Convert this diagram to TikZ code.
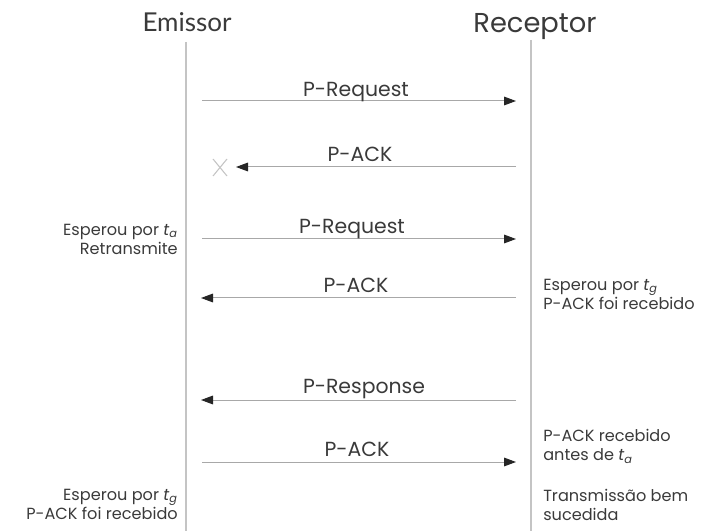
\documentclass[tikz,border=0pt]{standalone}
\usepackage{fontspec}
\setmainfont{Poppins}
\newfontfamily\titlefont{Lato}
\usetikzlibrary{arrows.meta}
\definecolor{lifegray}{HTML}{C4C4C4}
\definecolor{msggray}{HTML}{A8A8A8}
\definecolor{txtgray}{HTML}{3A3A3A}
\newcommand{\tsub}[1]{\textit{t}\textsubscript{\itshape #1}}
\begin{document}
\begin{tikzpicture}[x=0.75pt,y=-0.75pt,
  title/.style={text=txtgray,font=\fontsize{20.5}{24}\selectfont,inner sep=0pt},
  lifeline/.style={draw=lifegray,line width=0.8pt},
  msg/.style={draw=msggray,line width=0.75pt,
    -{Triangle[length=9pt,width=6.5pt,fill=black!85,color=black!85]}},
  msglabel/.style={text=txtgray,font=\fontsize{15.3}{18}\selectfont,inner sep=0pt,anchor=base},
  note/.style={text=txtgray,font=\fontsize{12.1}{14.4}\selectfont,inner sep=0pt},
  lostmark/.style={draw=lifegray,line width=0.8pt}]
\useasboundingbox (0,0) rectangle (704,531);

% participants
\node[title,font=\titlefont\fontsize{19.5}{24}\selectfont] (emissor) at (187,22) {Emissor};
\node[title] (receptor) at (535,27) {Receptor};

% lifelines
\coordinate (eTop) at (186,42);
\coordinate (eBot) at (186,531);
\coordinate (rTop) at (531,40);
\coordinate (rBot) at (531,531);
\draw[lifeline] (eTop) -- (eBot);
\draw[lifeline] (rTop) -- (rBot);

% message end points
\coordinate (s1) at (202,101); \coordinate (r1) at (516,101);
\coordinate (r2) at (516,167); \coordinate (s2) at (236,167);
\coordinate (s3) at (202,239); \coordinate (r3) at (516,239);
\coordinate (r4) at (516,298); \coordinate (s4) at (201,298);
\coordinate (r5) at (516,400); \coordinate (s5) at (201,400);
\coordinate (s6) at (202,462); \coordinate (r6) at (516,462);

% messages
\draw[msg] (s1) -- (r1);
\draw[msg] (r2) -- (s2);
\draw[msg] (s3) -- (r3);
\draw[msg] (r4) -- (s4);
\draw[msg] (r5) -- (s5);
\draw[msg] (s6) -- (r6);

% lost acknowledgement
\coordinate (x1) at (213,159); \coordinate (x2) at (227,176);
\coordinate (x3) at (227,159); \coordinate (x4) at (213,176);
\draw[lostmark] (x1) -- (x2);
\draw[lostmark] (x3) -- (x4);

% message labels
\node[msglabel] (l1) at (356,97) {P-Request};
\node[msglabel] (l2) at (360,162) {P-ACK};
\node[msglabel] (l3) at (352,234) {P-Request};
\node[msglabel] (l4) at (356,293) {P-ACK};
\node[msglabel] (l5) at (364,393) {P-Response};
\node[msglabel] (l6) at (357,456) {P-ACK};

% timer notes
\node[note,align=right,anchor=north east] (n1) at (178,224) {Esperou por \tsub{a}\\Retransmite};
\node[note,align=left,anchor=north west] (n2) at (543,279) {Esperou por \tsub{g}\\P-ACK foi recebido};
\node[note,align=left,anchor=north west] (n3) at (543,429) {P-ACK recebido\\antes de \tsub{a}};
\node[note,align=left,anchor=north west] (n4) at (543,489) {Transmissão bem\\sucedida};
\node[note,align=right,anchor=north east] (n5) at (178,489) {Esperou por \tsub{g}\\P-ACK foi recebido};
\end{tikzpicture}
\end{document}
